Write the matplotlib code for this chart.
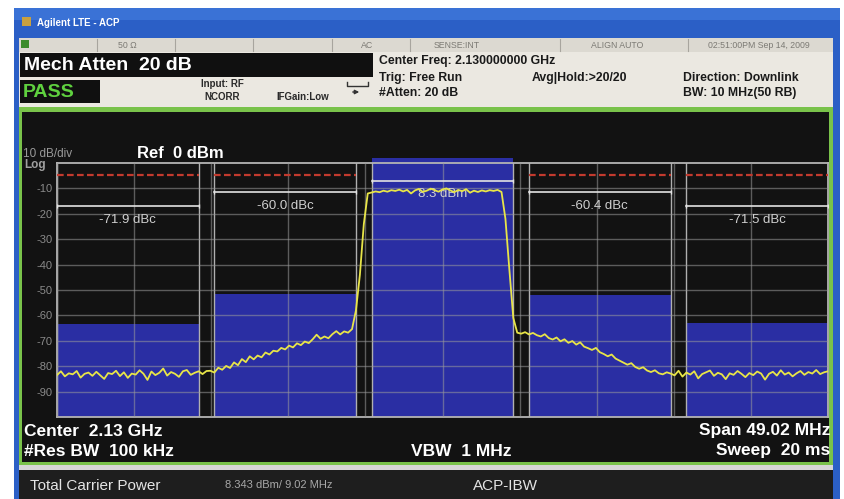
import matplotlib
matplotlib.use("Agg")
import matplotlib.pyplot as plt
import numpy as np
from matplotlib.patches import Rectangle

plt.rcParams['font.family'] = ['Liberation Sans', 'DejaVu Sans']

# analyzer settings
center_ghz = 2.13
span_mhz = 49.02
ref_dbm = 0
db_per_div = 10
res_bw = "100 kHz"
vbw = "1 MHz"
sweep = "20 ms"

# ACP channels (offset from center, MHz)
chan_offsets = [-20, -10, 0, 10, 20]
chan_bw = 9.015
carrier_dbm = 8.343
chan_dbc = [-71.9, -60.0, 0.0, -60.4, -71.5]
chan_labels = ["-71.9 dBc", "-60.0 dBc", "8.3 dBm", "-60.4 dBc", "-71.5 dBc"]
label_levels = [-17, -11.5, -7, -11.5, -17]
limit_level = -4.7
display_top = 2.0

y_ticks = [-10, -20, -30, -40, -50, -60, -70, -80, -90]

# averaged trace, dBm, left to right across the span
trace = [
    -83.5, -82.0, -84.0, -82.8, -83.2, -81.9, -84.5, -83.0, -82.5, -83.8,
    -82.2, -83.6, -85.0, -82.7, -83.1, -81.8, -83.9, -82.4, -84.6, -82.9,
    -83.3, -81.6, -83.0, -85.4, -82.1, -83.5, -82.6, -80.9, -83.7, -82.3,
    -83.0, -84.2, -82.0, -81.5, -83.4, -82.6, -82.0, -83.1, -81.9,
    -81.8, -82.5, -80.6, -81.4, -79.9, -80.7, -78.5, -79.6, -77.2, -78.4,
    -76.1, -77.3, -75.8, -76.5, -74.6, -75.4, -73.9, -74.2, -72.8, -73.4,
    -71.9, -72.6, -71.0, -71.7, -70.3, -70.9, -69.4, -67.6, -69.2, -68.3,
    -69.0, -67.4, -66.2, -67.5, -66.3, -66.8, -65.4,
    -58.0, -44.0, -24.0, -12.0,
    -11.6, -11.2, -11.5, -10.9, -11.3, -10.7, -11.0, -10.5, -11.2, -10.6,
    -12.0, -10.8, -10.2, -11.4, -10.9, -10.1, -10.7, -11.3, -10.4, -10.0,
    -10.8, -11.5, -10.6, -11.1, -10.3, -11.7, -10.9, -11.4, -10.8, -11.2,
    -10.7, -11.0, -10.6, -11.4,
    -22.0, -42.0, -61.0, -66.8,
    -67.2, -66.6, -67.5, -66.9, -67.8, -68.3, -67.4, -68.9, -69.5, -68.7,
    -70.2, -69.4, -70.8, -70.1, -71.5, -70.6, -72.3, -72.9, -73.6, -72.8,
    -74.5, -75.2, -76.1, -75.4, -77.0, -77.8, -78.6, -79.4, -78.8, -80.3,
    -81.0, -80.4, -81.7, -82.3, -81.6, -82.8, -83.2, -82.4,
    -82.9, -83.6, -81.8, -84.1, -82.5, -83.3, -82.0, -84.8, -83.1, -82.4,
    -81.7, -83.8, -82.6, -83.2, -85.1, -82.8, -83.4, -81.9, -83.0, -84.3,
    -82.7, -83.5, -82.1, -82.9, -85.3, -83.0, -82.2, -83.7, -81.6, -83.3,
    -82.5, -84.0, -82.8, -81.9, -83.4, -82.3, -82.9, -81.5, -83.1, -82.4,
    -82.0,
]

W, H = 844, 499
fig = plt.figure(figsize=(W / 100, H / 100), dpi=100)
fig.patch.set_facecolor("white")

# pixel-space layer for the instrument chrome
bg = fig.add_axes([0, 0, 1, 1], zorder=0)
bg.set_xlim(0, W)
bg.set_ylim(H, 0)
bg.axis("off")

def box(x0, y0, x1, y1, color, **kw):
    bg.add_patch(Rectangle((x0, y0), x1 - x0, y1 - y0, facecolor=color, edgecolor="none", **kw))

blue = "#2b5fc6"
box(14, 8, 840, 499, blue)
box(14, 8, 840, 20, "#3a72d6")
box(19, 38, 833, 52, "#dcd9d1")
box(19, 52, 833, 107, "#ebe8e1")
box(19, 107, 833, 465, "#79c24a")
box(22, 112, 829, 462, "#121212")
box(19, 465, 833, 470, "#d6d6d6")
box(19, 470, 833, 499, "#1e1e1e")

# title bar
box(22, 17, 31, 26, "#c8a040")
bg.text(37, 22.5, "Agilent LTE - ACP", color="white", fontsize=7, fontweight="bold", va="center")

# status row
for sx in [97, 175, 253, 332, 410, 560, 688]:
    bg.plot([sx, sx], [39, 51], color="#a8a59e", lw=0.8)
box(21, 40, 29, 48, "#3c8c2c")
status = [(127, "50 Ω"), (367, "AC"), (457, "SENSE:INT"), (617, "ALIGN AUTO"),
          (759, "02:51:00PM Sep 14, 2009")]
for sx, s in status:
    bg.text(sx, 45, s, color="#7c7a74", fontsize=6.3, ha="center", va="center")

# header
box(20, 53, 373, 77, "#101010")
bg.text(24, 65.5, "Mech Atten  20 dB", color="white", fontsize=14, fontweight="bold", va="center")
box(20, 80, 100, 103, "#101010")
bg.text(23, 92, "PASS", color="#5fd13f", fontsize=14, fontweight="bold", va="center")
hdr = dict(color="#2a2a2a", fontsize=7, fontweight="bold", va="center")
bg.text(222, 84, "Input: RF", ha="center", **hdr)
bg.text(222, 97, "NCORR", ha="center", **hdr)
bg.text(303, 97, "IFGain:Low", ha="center", **hdr)
bg.plot([347, 347, 368, 368], [82, 86, 86, 82], color="#333333", lw=1)
bg.annotate("", xy=(362, 92), xytext=(350, 92),
            arrowprops=dict(arrowstyle="-|>", color="#333333", lw=1, mutation_scale=6))
hdr2 = dict(color="#1a1a1a", fontsize=8.8, fontweight="bold", va="center")
bg.text(379, 61, "Center Freq: %.9f GHz" % center_ghz, **hdr2)
bg.text(379, 78, "Trig: Free Run", **hdr2)
bg.text(379, 93, "#Atten: 20 dB", **hdr2)
bg.text(532, 78, "Avg|Hold:>20/20", **hdr2)
bg.text(683, 78, "Direction: Downlink", **hdr2)
bg.text(683, 93, "BW: 10 MHz(50 RB)", **hdr2)

# display annotations
bg.text(23, 154, "%d dB/div" % db_per_div, color="#9a9a9a", fontsize=8.5, va="center")
bg.text(137, 153, "Ref  %d dBm" % ref_dbm, color="white", fontsize=12, fontweight="bold", va="center")
bg.text(24, 165, "Log", color="#a0a0a0", fontsize=8.5, fontweight="bold", va="center")
big = dict(color="white", fontsize=12.5, fontweight="bold", va="center")
bg.text(24, 431, "Center  %.2f GHz" % center_ghz, **big)
bg.text(24, 451, "#Res BW  " + res_bw, **big)
bg.text(411, 451, "VBW  " + vbw, **big)
bg.text(830, 431, "Span %.2f MHz" % span_mhz, ha="right", **big)
bg.text(830, 451, "Sweep  " + sweep, ha="right", **big)
bg.text(794, 361, "Average", color="#8a8a9a", fontsize=5.5, va="center")

# bottom result panel
bg.text(30, 486, "Total Carrier Power", color="#e4e4e4", fontsize=11, va="center")
bg.text(225, 485, "%.3f dBm/ %.2f MHz" % (carrier_dbm, chan_bw), color="#a8a8a8", fontsize=8, va="center")
bg.text(473, 486, "ACP-IBW", color="#e4e4e4", fontsize=11, va="center")

# spectrum graticule
ax = fig.add_axes([57 / W, 1 - 417 / H, 771 / W, 254 / H], zorder=1)
ax.set_facecolor("none")
xmin, xmax = -span_mhz / 2, span_mhz / 2
ax.set_xlim(xmin, xmax)
ax.set_ylim(ref_dbm - 10 * db_per_div, ref_dbm)

fill = "#2a2ea3"
for off, dbc in zip(chan_offsets, chan_dbc):
    top = min(carrier_dbm + dbc, display_top)
    ax.bar(off, top - (ref_dbm - 100), bottom=ref_dbm - 100, width=chan_bw,
           color=fill, clip_on=False, zorder=1)
    for e in (off - chan_bw / 2, off + chan_bw / 2):
        ax.plot([e, e], [ref_dbm - 100, ref_dbm], color="#b0b0b0", lw=1, zorder=2)

ax.set_xticks(np.linspace(xmin, xmax, 11))
ax.set_xticklabels([])
ax.set_yticks(y_ticks)
ax.set_yticklabels([str(t) for t in y_ticks])
ax.tick_params(axis="both", length=0)
ax.tick_params(axis="y", pad=3, labelcolor="#8a8a8a", labelsize=8)
ax.grid(True, color="#9a9a9a", lw=1, alpha=0.55, zorder=2.5)
ax.set_axisbelow(False)
for sp in ax.spines.values():
    sp.set_color("#b4b4b4")
    sp.set_linewidth(1.3)

for off, lvl, lab, dbc in zip(chan_offsets, label_levels, chan_labels, chan_dbc):
    x0, x1 = off - chan_bw / 2, off + chan_bw / 2
    if dbc != 0:
        ax.plot([x0, x1], [limit_level, limit_level], color="#c23a2e", lw=1.6,
                ls=(0, (3, 1.5)), zorder=3)
    ax.plot([x0, x1], [lvl, lvl], color="#e2e2e2", lw=1.2, zorder=3,
            marker="|", markersize=3, markevery=[0, 1])
    ax.text(off, lvl - 5.3, lab, color="#cfcfcf", fontsize=9.5, ha="center", va="center", zorder=3)

freqs = np.linspace(xmin, xmax, len(trace))
ax.plot(freqs, trace, color="#e8e548", lw=1.3, zorder=4)

fig.savefig("out.png", dpi=100, facecolor="white")
